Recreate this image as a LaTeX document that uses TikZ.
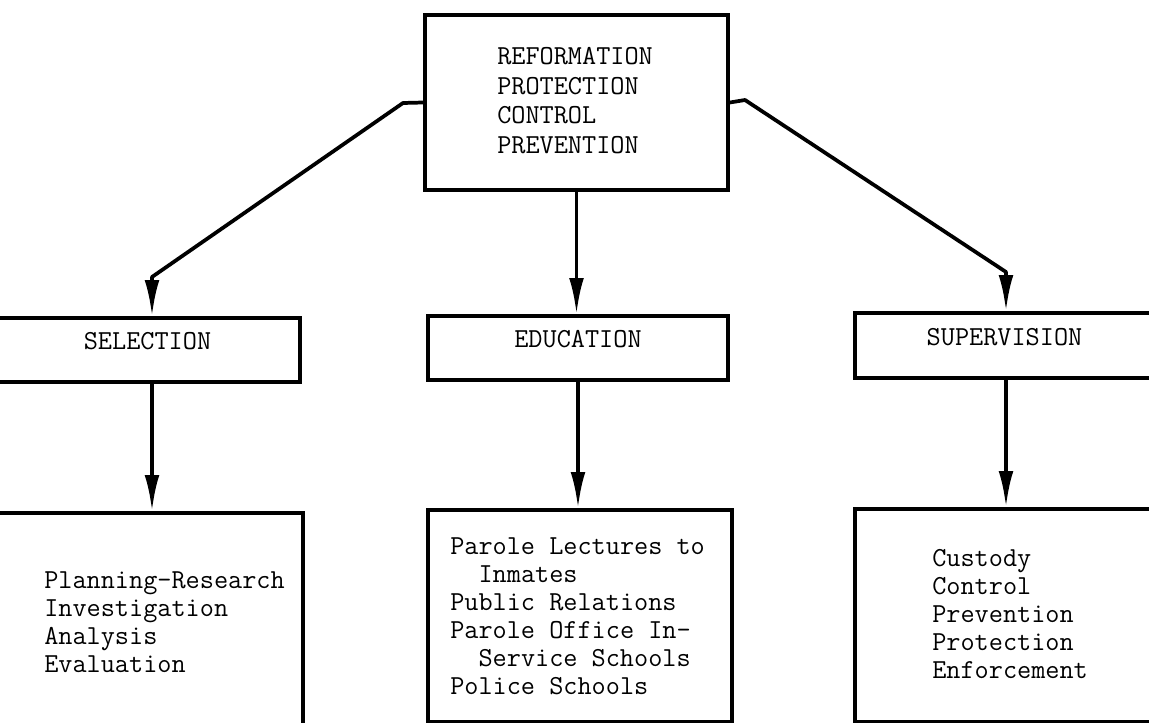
\documentclass[tikz,border=0pt]{standalone}
\usetikzlibrary{arrows.meta,fit}
\begin{document}
\begin{tikzpicture}[x=0.75pt,y=-0.75pt,
  box/.style={draw,line width=2.8pt,inner sep=0pt,rectangle,
    font=\ttfamily\fontsize{20.6}{22}\selectfont},
  txt/.style={inner sep=0pt,anchor=north west,align=left,
    font=\ttfamily\fontsize{20.6}{21}\selectfont},
  link/.style={line width=2.8pt,line join=round,-{Latex[length=27pt,width=11pt]}}]
\useasboundingbox (0,0) rectangle (1149,723);
\clip (0,0) rectangle (1149,723);

% aims of the agency
\node[box,fit={(425,15) (728,190)}] (aims) {};
\node[txt,font=\ttfamily\fontsize{20.6}{22.3}\selectfont] (aimst) at (497,47)
  {REFORMATION\\PROTECTION\\CONTROL\\PREVENTION};

% three functions
\node[box,fit={(-5,318) (300,382)}] (sel) {SELECTION};
\node[box,fit={(428,316) (728,380)}] (edu) {EDUCATION};
\node[box,fit={(855,313) (1154,378)}] (sup) {SUPERVISION};

% activities under each function
\node[box,fit={(-5,513) (303,740)}] (selx) {};
\node[box,fit={(428,510) (732,722)}] (edux) {};
\node[box,fit={(855,509) (1154,722)}] (supx) {};

\node[txt] (selt) at (44,571) {Planning-Research\\Investigation\\Analysis\\Evaluation};
\node[txt] (edut) at (450,537) {Parole Lectures to\\\ \ Inmates\\Public Relations\\Parole Office In-\\\ \ Service Schools\\Police Schools};
\node[txt] (supt) at (932,549) {Custody\\Control\\Prevention\\Protection\\Enforcement};

% connectors
\coordinate (l1) at (403,103);
\coordinate (l2) at (152,277);
\coordinate (r1) at (745,100);
\coordinate (r2) at (1006,272);

\draw[link] (aims.west) -- (l1) -- (l2) -- (l2 |- sel.north);
\draw[link] (aims.east) -- (r1) -- (r2) -- (r2 |- sup.north);
\draw[link] (aims.south) -- (aims.south |- edu.north);

\draw[link] (sel.south -| l2) -- (l2 |- selx.north);
\draw[link] (edu.south) -- (edu.south |- edux.north);
\draw[link] (sup.south -| r2) -- (r2 |- supx.north);
\end{tikzpicture}
\end{document}
